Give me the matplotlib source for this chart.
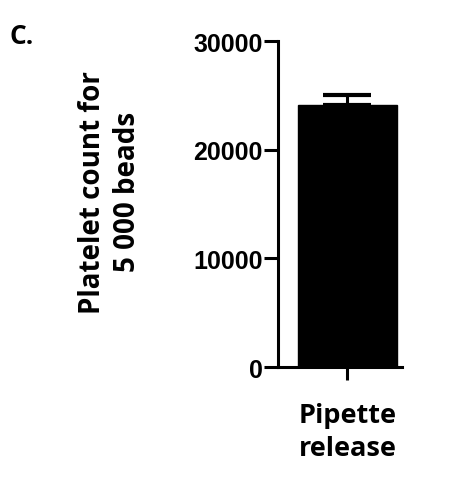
import matplotlib
matplotlib.use("Agg")
import matplotlib.pyplot as plt

# Datos
categorias = ["Pipette\nrelease"]
valores = [24100]
errores = [900]
ticksY = [0, 10000, 20000, 30000]

fig = plt.figure(figsize=(4.53, 4.89), dpi=100)
ax = fig.add_axes([0.614, 0.247, 0.273, 0.667])

ax.bar([0], valores, width=0.8, color="black", edgecolor="black")
ax.errorbar([0], valores, yerr=[[0], errores], fmt="none", ecolor="black",
            elinewidth=2.2, capsize=17, capthick=3)

ax.set_xlim(-0.56, 0.44)
ax.set_ylim(0, 30000)
ax.set_yticks(ticksY)
ax.set_xticks([0])
ax.set_xticklabels(categorias, fontsize=19.5, fontweight="bold", family="Open Sans", linespacing=1.35)
for lab in ax.get_yticklabels():
    lab.set_fontsize(18)
    lab.set_fontweight("bold")
    lab.set_family("Liberation Sans")

for s in ["top", "right"]:
    ax.spines[s].set_visible(False)
for s in ["left", "bottom"]:
    ax.spines[s].set_linewidth(2.2)
ax.tick_params(axis="y", length=10, width=2.2, pad=1)
ax.tick_params(axis="x", length=9, width=2.2, pad=16)

fig.text(0.243, 0.607, "Platelet count for\n5 000 beads", rotation=90, ha="center", va="center",
         fontsize=20, fontweight="bold", family="Open Sans", linespacing=1.25)
fig.text(0.022, 0.91, "C.", fontsize=19, fontweight="bold", family="Open Sans")

fig.savefig("out.png", dpi=100)
